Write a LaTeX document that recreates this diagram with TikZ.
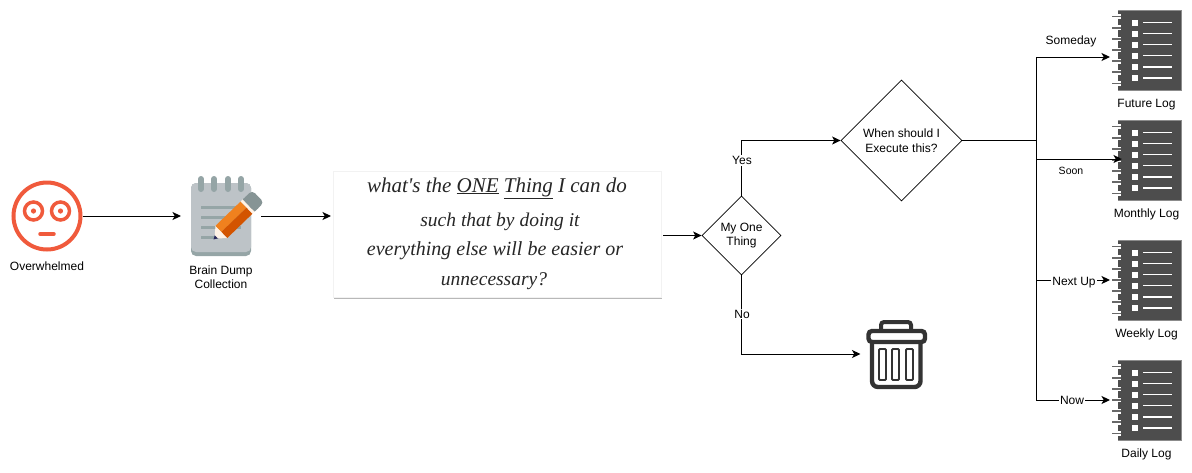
\documentclass[tikz,border=0pt]{standalone}
\usepackage{fontspec}
\setmainfont{Liberation Sans}
\newfontfamily\handfont{Liberation Serif}
\usetikzlibrary{shapes.geometric,arrows.meta}
\definecolor{facered}{HTML}{F05A3C}
\definecolor{padgray}{HTML}{BDC3C7}
\definecolor{paddark}{HTML}{95A5A6}
\definecolor{pencilor}{HTML}{F0811E}
\definecolor{pencildk}{HTML}{D35400}
\definecolor{logdark}{HTML}{4D4D4D}
\definecolor{logedge}{HTML}{8C8C8C}
\definecolor{trashdk}{HTML}{333333}
\tikzset{
  flow/.style={line width=1pt,-{Stealth[length=8.5pt,width=8pt,inset=2.2pt]}},
  plain/.style={line width=1pt},
  decision/.style={draw,diamond,aspect=1,inner sep=0pt,align=center,line width=.8pt,font=\fontsize{12}{14.5}\selectfont},
  iconbox/.style={inner sep=0pt,outer sep=0pt},
  caption/.style={inner sep=0pt,align=center,font=\fontsize{12}{14}\selectfont},
  edgelabel/.style={inner sep=1pt,fill=white,font=\fontsize{12}{14}\selectfont},
  handline/.style={inner sep=0pt,text=black!85,font=\handfont\itshape\fontsize{#1}{24}\selectfont},
}
\newcommand{\logicon}[3]{
  \begin{scope}[shift={(0,#2)}]
    \node[iconbox,minimum width=72pt,minimum height=80pt] (#1) at (1146,50) {};
    \fill[logdark] (1118,10) rectangle (1181,90);
    \draw[logedge,line width=.6pt] (1118,10) -- (1181,10) -- (1181,90) -- (1118,90);
    \foreach \row in {0,...,6} {
      \fill[white] (1117,{16.7+11.1*\row-2.4}) rectangle (1121,{16.7+11.1*\row+2.4});
      \draw[logdark!85,line width=1.5pt] (1112,{16.7+11.1*\row}) -- (1120.5,{16.7+11.1*\row});
    }
    \foreach \row in {0,...,5} {
      \fill[white] (1131.5,{19.5+11.15*\row}) rectangle (1137.5,{25.5+11.15*\row});
      \draw[white,line width=1.4pt] (1143,{22.3+11.15*\row}) -- (1172,{22.3+11.15*\row});
    }
    \node[caption] (#1label) at (1146.5,104.8) {#3};
  \end{scope}
}
\begin{document}
\begin{tikzpicture}[x=1pt,y=-1pt]
  \useasboundingbox (0,0) rectangle (1192,472);

  \node[iconbox,minimum width=71pt,minimum height=72pt] (face) at (47,216) {};
  \draw[facered,line width=4pt] (47,216) circle[radius=33.5pt];
  \draw[facered,line width=3.5pt] (33.5,211) circle[radius=9pt];
  \draw[facered,line width=3.5pt] (60.5,211) circle[radius=9pt];
  \fill[facered] (33.5,211) circle[radius=2.6pt];
  \fill[facered] (60.5,211) circle[radius=2.6pt];
  \draw[facered,line width=3.5pt,line cap=round] (40,234) -- (54,234);
  \node[caption] (facelabel) at (47,266) {Overwhelmed};

  \node[iconbox,minimum width=80pt,minimum height=80pt] (pad) at (221,216) {};
  \fill[paddark,rounded corners=5pt] (191,183) rectangle (251,256);
  \fill[padgray,rounded corners=5pt] (191,183) rectangle (251,252);
  \foreach \ringx in {201,214,228,241} {
    \draw[paddark,line width=6pt,line cap=round] (\ringx,179) -- (\ringx,189);
  }
  \foreach \liney/\lineend in {207.5/241,217.5/241,227.5/241,237.5/218} {
    \draw[paddark,line width=2.6pt] (201,\liney) -- (\lineend,\liney);
  }
  \begin{scope}[shift={(213.5,239.5)},rotate=44]
    \fill[trashdk!80!blue] (0,0) -- (5,-2.8) -- (5,2.8) -- cycle;
    \fill[white!90!orange] (4,-2.4) -- (11,-8.5) -- (11,8.5) -- (4,2.4) -- cycle;
    \fill[pencilor] (11,-8.5) rectangle (46,0);
    \fill[pencildk] (11,0) rectangle (46,8.5);
    \fill[white!90!orange] (46,-8.5) rectangle (49,8.5);
    \fill[paddark!90!black,rounded corners=4pt] (49,-8.5) -- (62,-8.5) -- (62,8.5) -- (49,8.5) -- cycle;
    \fill[paddark!90!black] (49,-8.5) rectangle (54,8.5);
  \end{scope}
  \node[caption] (padlabel) at (221,277) {Brain Dump\\Collection};

  \fill[black!28] (334,173) rectangle (662,298.5);
  \node[draw=black!5,fill=white,minimum width=328pt,minimum height=126pt,inner sep=0pt,outer sep=2pt] (note) at (497,234) {};
  \node[handline=21] (noteone) at (497,188) {what's the \underline{ONE} \underline{Thing} I can do};
  \node[handline=19.5] (notetwo) at (500,222) {such that by doing it};
  \node[handline=20] (notethree) at (495,251) {everything else will be easier or};
  \node[handline=19.5] (notefour) at (494,281) {unnecessary?};

  \node[decision,minimum width=79pt,minimum height=79pt] (onething) at (741.5,235.5) {My One\\Thing};
  \node[decision,minimum width=121pt,minimum height=121pt] (whenq) at (901.5,140.5) {When should I\\Execute this?};

  \node[iconbox,minimum width=71pt,minimum height=70pt] (trash) at (896,354) {};
  \begin{scope}[trashdk]
    \draw[line width=4pt,rounded corners=3pt] (881,330) -- (881,322) -- (911,322) -- (911,330);
    \draw[line width=4.4pt,rounded corners=3.5pt,fill=white] (868.5,331) rectangle (925,342);
    \draw[line width=4.4pt,rounded corners=6pt] (872,343) -- (872,387) -- (920.5,387) -- (920.5,343);
    \foreach \slotx in {879,892,906} {
      \draw[line width=1.8pt,rounded corners=1pt] (\slotx,349) rectangle (\slotx+7,380);
    }
  \end{scope}

  \logicon{futurelog}{0}{Future Log}
  \logicon{monthlylog}{110}{Monthly Log}
  \logicon{weeklylog}{230}{Weekly Log}
  \logicon{dailylog}{350}{Daily Log}

  \coordinate (trunk) at (1036,140.5);
  \coordinate (futurein) at (1110,57);
  \coordinate (monthlyin) at (1122,159);

  \draw[flow] (face) -- (pad);
  \draw[flow] (pad) -- (note.west |- pad);
  \draw[flow] (note.east |- onething) -- (onething);
  \draw[flow] (onething) |- (whenq);
  \draw[flow] (onething) |- (trash);
  \draw[plain] (whenq) -- (trunk);
  \draw[flow] (trunk) |- (futurein);
  \draw[flow] (trunk) |- (monthlyin);
  \draw[flow] (trunk) |- (weeklylog);
  \draw[flow] (trunk) |- (dailylog);

  \node[edgelabel] (yes) at (742,160.5) {Yes};
  \node[edgelabel] (no) at (742,314) {No};
  \node[edgelabel,fill=none] (someday) at (1071,41.5) {Someday};
  \node[edgelabel,fill=none,font=\fontsize{10.5}{12}\selectfont] (soon) at (1071,170.5) {Soon};
  \node[edgelabel] (nextup) at (1074,282.5) {Next Up};
  \node[edgelabel] (now) at (1072,400.5) {Now};
\end{tikzpicture}
\end{document}
